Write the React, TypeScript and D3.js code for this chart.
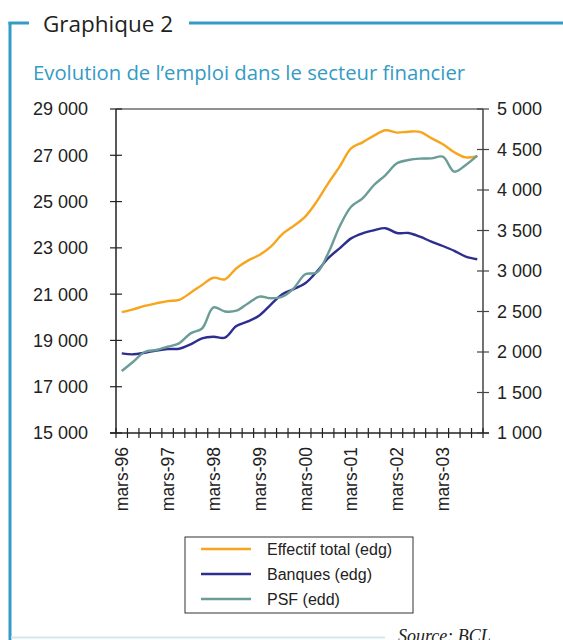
import React from "react";
import * as d3 from "d3";

const categories = [
  "mars-96", "juin-96", "sept-96", "déc-96",
  "mars-97", "juin-97", "sept-97", "déc-97",
  "mars-98", "juin-98", "sept-98", "déc-98",
  "mars-99", "juin-99", "sept-99", "déc-99",
  "mars-00", "juin-00", "sept-00", "déc-00",
  "mars-01", "juin-01", "sept-01", "déc-01",
  "mars-02", "juin-02", "sept-02", "déc-02",
  "mars-03", "juin-03", "sept-03", "déc-03",
];

const effectifTotal = [
  20220, 20345, 20490, 20600, 20700, 20750, 21060, 21400,
  21710, 21640, 22120, 22450, 22690, 23050, 23590, 23950,
  24350, 25000, 25790, 26510, 27300, 27560, 27850, 28080,
  27980, 28020, 28010, 27740, 27480, 27130, 26910, 26960,
];

const banques = [
  18440, 18400, 18470, 18560, 18630, 18640, 18830, 19090,
  19160, 19120, 19620, 19820, 20080, 20550, 21000, 21220,
  21470, 21970, 22550, 22980, 23410, 23630, 23760, 23850,
  23640, 23640, 23480, 23270, 23080, 22870, 22620, 22510,
];

const psf = [
  1765, 1880, 2000, 2025, 2065, 2107, 2230, 2290,
  2550, 2500, 2510, 2600, 2683, 2663, 2683, 2786,
  2960, 2980, 3220, 3550, 3794, 3897, 4062, 4185,
  4330, 4370, 4387, 4390, 4411, 4226, 4309, 4424,
];

const leftTicks = [15000, 17000, 19000, 21000, 23000, 25000, 27000, 29000];
const rightTicks = [1000, 1500, 2000, 2500, 3000, 3500, 4000, 4500, 5000];

const seriesNames = ["Effectif total (edg)", "Banques (edg)", "PSF (edd)"];
const seriesColors = ["#f8a51e", "#2e2e8e", "#6a9c98"];

const FRAME = "#339bc5";

const fmt = (v: number) => d3.format(",")(v).replace(/,/g, " ");

export default function App() {
  const W = 563;
  const H = 640;
  const left = 116;
  const right = 483;
  const top = 109;
  const bottom = 433;

  const x = d3.scaleBand<string>().domain(categories).range([left, right]).padding(0);
  const yL = d3.scaleLinear().domain([15000, 29000]).range([bottom, top]);
  const yR = d3.scaleLinear().domain([1000, 5000]).range([bottom, top]);
  const cx = (c: string) => (x(c) as number) + x.bandwidth() / 2;

  const lineL = d3
    .line<number>()
    .x((_, i) => cx(categories[i]))
    .y((d) => yL(d))
    .curve(d3.curveCatmullRom.alpha(0.5));
  const lineR = d3
    .line<number>()
    .x((_, i) => cx(categories[i]))
    .y((d) => yR(d))
    .curve(d3.curveCatmullRom.alpha(0.5));

  const paths = [lineL(effectifTotal), lineL(banques), lineR(psf)];

  const boundaries = d3.range(categories.length + 1).map((i) => left + i * x.bandwidth());

  const axisFont = "Liberation Sans, Arial, sans-serif";

  return (
    <svg
      width={W}
      height={H}
      style={{ position: "absolute", left: 0, top: 0, display: "block", background: "#fff" }}
    >
      {/* frame */}
      <line x1={10} y1={22} x2={10} y2={H} stroke={FRAME} strokeWidth={3} />
      <line x1={8.5} y1={23} x2={29} y2={23} stroke={FRAME} strokeWidth={3} />
      <line x1={189} y1={23} x2={W} y2={23} stroke={FRAME} strokeWidth={3} />
      <text x={43} y={32} fontFamily="Open Sans, Noto Sans, sans-serif" fontSize={22.5} fill="#231f20">
        Graphique 2
      </text>
      <text x={33} y={80} fontFamily="Open Sans, Noto Sans, sans-serif" fontSize={20.3} fill={FRAME}>
        Evolution de l’emploi dans le secteur financier
      </text>

      {/* plot box */}
      <line x1={left} y1={top} x2={right} y2={top} stroke="#222" strokeWidth={1.2} />
      <line x1={left} y1={top} x2={left} y2={bottom} stroke="#222" strokeWidth={1.5} />
      <line x1={right} y1={top} x2={right} y2={bottom} stroke="#444" strokeWidth={1.5} />
      <line x1={left - 6} y1={bottom} x2={right + 6} y2={bottom} stroke="#222" strokeWidth={1.5} />

      {/* left ticks */}
      {leftTicks.map((t) => (
        <g key={"l" + t}>
          <line x1={left - 6} x2={left + 6} y1={yL(t)} y2={yL(t)} stroke="#222" strokeWidth={1.2} />
          <text
            x={88}
            y={yL(t)}
            dy="0.36em"
            textAnchor="end"
            fontFamily={axisFont}
            fontSize={18}
            fill="#222"
          >
            {fmt(t)}
          </text>
        </g>
      ))}

      {/* right ticks */}
      {rightTicks.map((t) => (
        <g key={"r" + t}>
          <line x1={right - 6} x2={right + 6} y1={yR(t)} y2={yR(t)} stroke="#444" strokeWidth={1.2} />
          <text
            x={497}
            y={yR(t)}
            dy="0.36em"
            textAnchor="start"
            fontFamily={axisFont}
            fontSize={18}
            fill="#222"
          >
            {fmt(t)}
          </text>
        </g>
      ))}

      {/* x ticks */}
      {boundaries.map((b, i) => (
        <line key={"x" + i} x1={b} x2={b} y1={bottom - 5} y2={bottom + 5} stroke="#222" strokeWidth={1.2} />
      ))}
      {categories.map((c, i) =>
        i % 4 === 0 ? (
          <text
            key={"xl" + c}
            transform={`translate(${cx(c)},${447}) rotate(-90)`}
            dy="0.36em"
            textAnchor="end"
            fontFamily={axisFont}
            fontSize={17.5}
            fill="#222"
          >
            {c}
          </text>
        ) : null
      )}

      {/* series */}
      {paths.map((p, i) => (
        <path key={"p" + i} d={p || ""} fill="none" stroke={seriesColors[i]} strokeWidth={2.4} />
      ))}

      {/* legend */}
      <rect x={185} y={537} width={228} height={76} fill="#fff" stroke="#333" strokeWidth={1} />
      {seriesNames.map((n, i) => (
        <g key={"lg" + n}>
          <line x1={201} x2={251} y1={549 + i * 25} y2={549 + i * 25} stroke={seriesColors[i]} strokeWidth={2.4} />
          <text x={267} y={549 + i * 25} dy="0.36em" fontFamily={axisFont} fontSize={16} fill="#222">
            {n}
          </text>
        </g>
      ))}

      {/* source */}
      <line x1={11} y1={637.5} x2={385} y2={637.5} stroke="#d3e8ee" strokeWidth={2} />
      <text
        x={398}
        y={642}
        fontFamily="Liberation Serif, Times New Roman, serif"
        fontStyle="italic"
        fontSize={18}
        fill="#222"
      >
        Source:  BCL
      </text>
    </svg>
  );
}
